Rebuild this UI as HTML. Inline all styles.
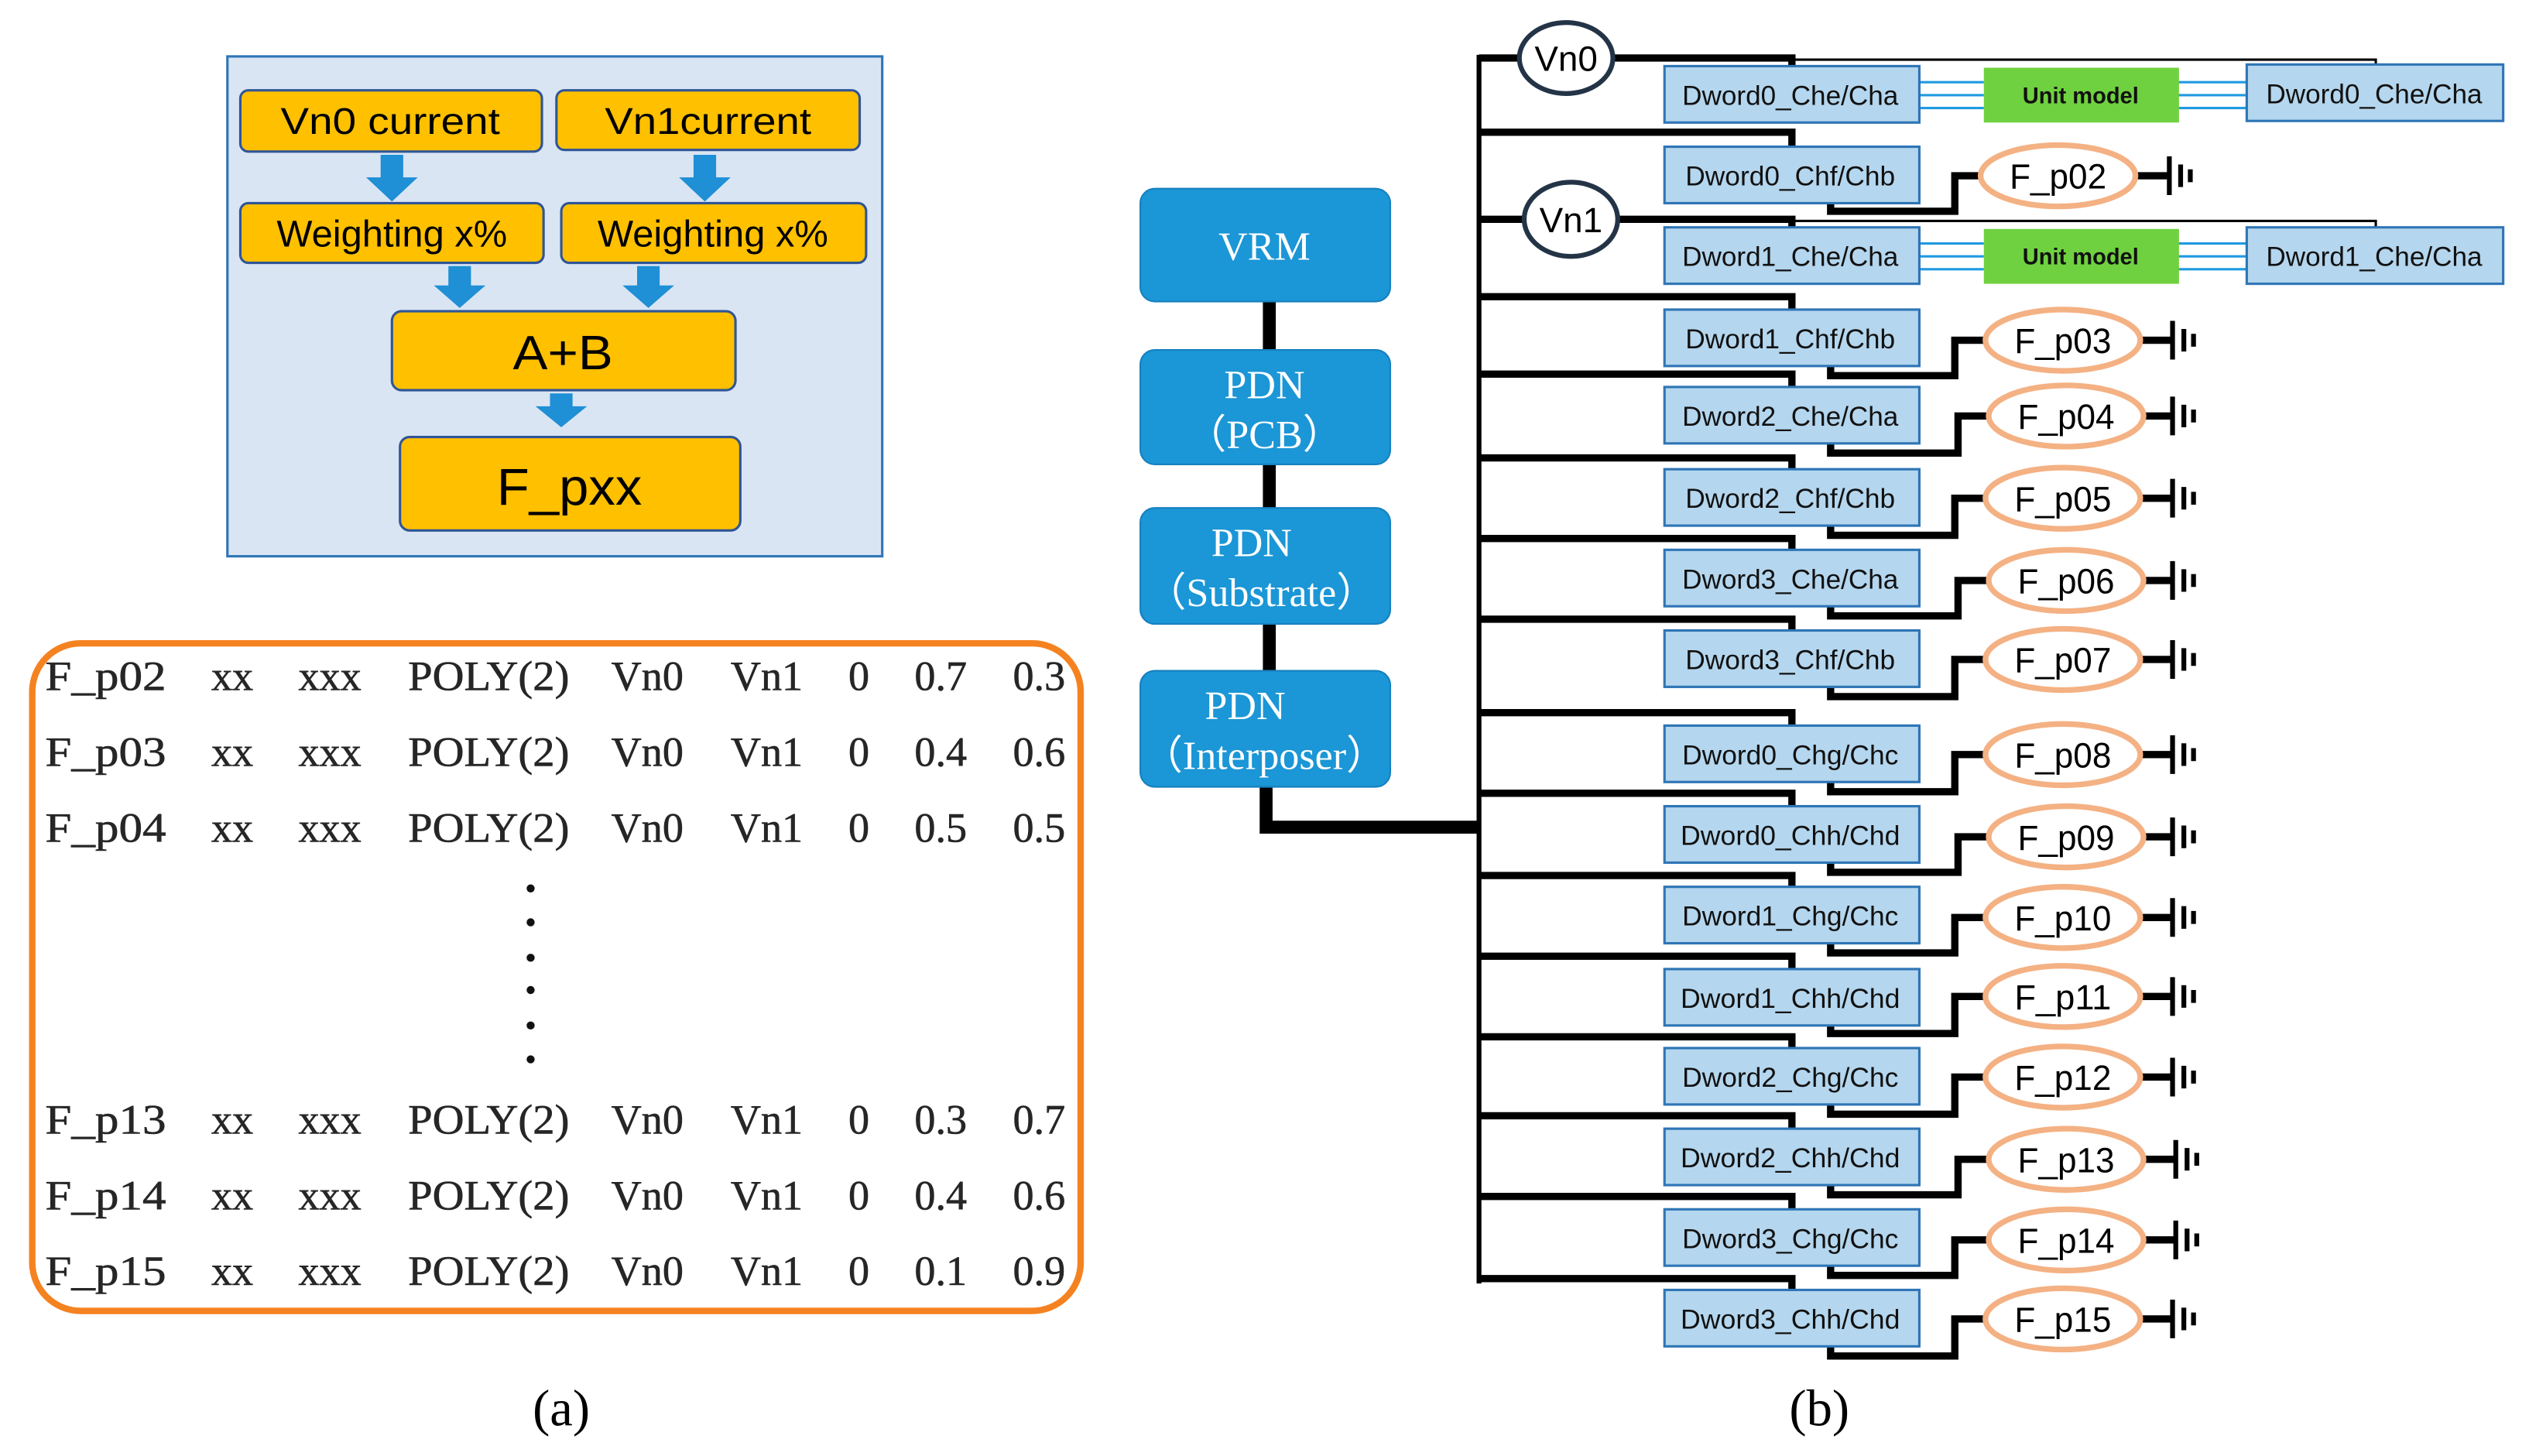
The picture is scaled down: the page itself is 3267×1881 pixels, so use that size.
<!DOCTYPE html>
<html><head><meta charset="utf-8"><style>
html,body{margin:0;padding:0;background:#fff}
svg{display:block}
.r{font-family:"Liberation Serif",serif}
.bx{fill:#b4d6ee;stroke:#2e75b6;stroke-width:1.5}
.bt{font-family:"Liberation Sans",sans-serif;font-size:17px;fill:#111;text-anchor:middle}
.el{fill:#fff;stroke:#f4b183;stroke-width:3.5}
.et{font-family:"Liberation Sans",sans-serif;font-size:22px;fill:#000;text-anchor:middle}
.w{fill:none;stroke:#000;stroke-width:4.5}
.g{stroke:#000;stroke-width:3}
.tb{font-family:"Liberation Serif",serif;font-size:26px;fill:#262626;stroke:#262626;stroke-width:0.3}
.yb{fill:#ffc000;stroke:#2f5597;stroke-width:1.5}
.yt{font-family:"Liberation Sans",sans-serif;fill:#000;text-anchor:middle}
.pb{fill:#1b96d6;stroke:#1680be;stroke-width:1}
.pt{font-family:"Liberation Serif",serif;font-size:25px;fill:#fff;text-anchor:middle}
.ar{fill:#1f8fd6}
</style></head><body>
<svg width="3267" height="1881" viewBox="0 0 1568 903" preserveAspectRatio="none" xmlns="http://www.w3.org/2000/svg">
<rect x="141" y="35" width="406" height="310" fill="#dae5f3" stroke="#2e75b6" stroke-width="1.5"/>
<rect class="yb" x="149" y="56" width="187" height="38" rx="5"/>
<text class="yt" x="242" y="83" font-size="23" textLength="136" lengthAdjust="spacingAndGlyphs">Vn0 current</text>
<rect class="yb" x="345" y="56" width="188" height="37" rx="5"/>
<text class="yt" x="439" y="83" font-size="23" textLength="128" lengthAdjust="spacingAndGlyphs">Vn1current</text>
<path class="ar" d="M236 96h14v14h9l-16 15-16-15h9z"/>
<path class="ar" d="M430 96h14v14h9l-16 15-16-15h9z"/>
<rect class="yb" x="149" y="126" width="188" height="37" rx="5"/>
<text class="yt" x="243" y="153" font-size="23" textLength="143" lengthAdjust="spacingAndGlyphs">Weighting x%</text>
<rect class="yb" x="348" y="126" width="189" height="37" rx="5"/>
<text class="yt" x="442" y="153" font-size="23" textLength="143" lengthAdjust="spacingAndGlyphs">Weighting x%</text>
<path class="ar" d="M278 165h14v12h9l-16 14-16-14h9z"/>
<path class="ar" d="M395 165h14v12h9l-16 14-16-14h9z"/>
<rect class="yb" x="243" y="193" width="213" height="49" rx="6"/>
<text class="yt" x="349" y="229" font-size="30" textLength="62" lengthAdjust="spacingAndGlyphs">A+B</text>
<path class="ar" d="M341 244h14v8h9l-16 13-16-13h9z"/>
<rect class="yb" x="248" y="271" width="211" height="58" rx="6"/>
<text class="yt" x="353" y="313" font-size="32" textLength="90" lengthAdjust="spacingAndGlyphs">F_pxx</text>

<rect x="20" y="399" width="650" height="414" rx="30" fill="none" stroke="#f58220" stroke-width="4"/>
<g class="tb">
<text x="28" y="428" textLength="75" lengthAdjust="spacingAndGlyphs">F_p02</text><text x="131" y="428">xx</text><text x="185" y="428">xxx</text><text x="253" y="428" textLength="100" lengthAdjust="spacingAndGlyphs">POLY(2)</text><text x="379" y="428">Vn0</text><text x="453" y="428">Vn1</text><text x="526" y="428">0</text><text x="567" y="428">0.7</text><text x="628" y="428">0.3</text>
<text x="28" y="475" textLength="75" lengthAdjust="spacingAndGlyphs">F_p03</text><text x="131" y="475">xx</text><text x="185" y="475">xxx</text><text x="253" y="475" textLength="100" lengthAdjust="spacingAndGlyphs">POLY(2)</text><text x="379" y="475">Vn0</text><text x="453" y="475">Vn1</text><text x="526" y="475">0</text><text x="567" y="475">0.4</text><text x="628" y="475">0.6</text>
<text x="28" y="522" textLength="75" lengthAdjust="spacingAndGlyphs">F_p04</text><text x="131" y="522">xx</text><text x="185" y="522">xxx</text><text x="253" y="522" textLength="100" lengthAdjust="spacingAndGlyphs">POLY(2)</text><text x="379" y="522">Vn0</text><text x="453" y="522">Vn1</text><text x="526" y="522">0</text><text x="567" y="522">0.5</text><text x="628" y="522">0.5</text>
<text x="28" y="703" textLength="75" lengthAdjust="spacingAndGlyphs">F_p13</text><text x="131" y="703">xx</text><text x="185" y="703">xxx</text><text x="253" y="703" textLength="100" lengthAdjust="spacingAndGlyphs">POLY(2)</text><text x="379" y="703">Vn0</text><text x="453" y="703">Vn1</text><text x="526" y="703">0</text><text x="567" y="703">0.3</text><text x="628" y="703">0.7</text>
<text x="28" y="750" textLength="75" lengthAdjust="spacingAndGlyphs">F_p14</text><text x="131" y="750">xx</text><text x="185" y="750">xxx</text><text x="253" y="750" textLength="100" lengthAdjust="spacingAndGlyphs">POLY(2)</text><text x="379" y="750">Vn0</text><text x="453" y="750">Vn1</text><text x="526" y="750">0</text><text x="567" y="750">0.4</text><text x="628" y="750">0.6</text>
<text x="28" y="797" textLength="75" lengthAdjust="spacingAndGlyphs">F_p15</text><text x="131" y="797">xx</text><text x="185" y="797">xxx</text><text x="253" y="797" textLength="100" lengthAdjust="spacingAndGlyphs">POLY(2)</text><text x="379" y="797">Vn0</text><text x="453" y="797">Vn1</text><text x="526" y="797">0</text><text x="567" y="797">0.1</text><text x="628" y="797">0.9</text>
</g>
<g fill="#111"><circle cx="329" cy="551" r="2.5"/><circle cx="329" cy="572" r="2.5"/><circle cx="329" cy="594" r="2.5"/><circle cx="329" cy="614" r="2.5"/><circle cx="329" cy="636" r="2.5"/><circle cx="329" cy="657" r="2.5"/></g>
<text class="r" x="348" y="884" font-size="32" text-anchor="middle">(a)</text>
<text class="r" x="1128" y="884" font-size="32" text-anchor="middle">(b)</text>

<path d="M787 185V420" stroke="#000" stroke-width="8"/>
<path d="M785 485V513H918" fill="none" stroke="#000" stroke-width="8"/>
<rect class="pb" x="707" y="117" width="155" height="70" rx="9"/>
<text class="pt" x="784" y="161">VRM</text>
<rect class="pb" x="707" y="217" width="155" height="71" rx="9"/>
<text class="pt" x="784" y="247">PDN</text><text class="pt" x="784" y="278" font-size="22">（PCB）</text>
<rect class="pb" x="707" y="315" width="155" height="72" rx="9"/>
<text class="pt" x="776" y="345">PDN</text><text class="pt" x="782" y="376" font-size="22">（Substrate）</text>
<rect class="pb" x="707" y="416" width="155" height="72" rx="9"/>
<text class="pt" x="772" y="446">PDN</text><text class="pt" x="784" y="477" font-size="22">（Interposer）</text>

<path d="M917 34V796" stroke="#000" stroke-width="3"/>
<path class="w" d="M917 36H944M998 36H1111V41"/>
<path d="M1111 37H1473V42" fill="none" stroke="#000" stroke-width="1.5"/>
<ellipse cx="971" cy="36" rx="29" ry="22" fill="#fff" stroke="#243447" stroke-width="3"/>
<text class="et" x="971" y="44">Vn0</text>
<path class="w" d="M917 136H946M1001 136H1111V141"/>
<path d="M1111 137H1473V143" fill="none" stroke="#000" stroke-width="1.5"/>
<ellipse cx="974" cy="136" rx="29" ry="23" fill="#fff" stroke="#243447" stroke-width="3"/>
<text class="et" x="974" y="144">Vn1</text>
<g stroke="#1f9ae0" stroke-width="1.5">
<path d="M1190 51H1230M1190 59H1230M1190 67H1230M1350 51H1393M1350 59H1393M1350 67H1393"/>
<path d="M1190 151H1230M1190 159H1230M1190 167H1230M1350 151H1393M1350 159H1393M1350 167H1393"/>
</g>
<rect x="1230" y="42" width="121" height="34" fill="#6fd13f"/>
<text x="1290" y="64" font-family="Liberation Sans,sans-serif" font-size="14" font-weight="bold" text-anchor="middle" fill="#111" textLength="72" lengthAdjust="spacingAndGlyphs">Unit model</text>
<rect x="1230" y="142" width="121" height="34" fill="#6fd13f"/>
<text x="1290" y="164" font-family="Liberation Sans,sans-serif" font-size="14" font-weight="bold" text-anchor="middle" fill="#111" textLength="72" lengthAdjust="spacingAndGlyphs">Unit model</text>
<rect class="bx" x="1393" y="40" width="159" height="35"/>
<text class="bt" x="1472" y="64" textLength="134" lengthAdjust="spacingAndGlyphs">Dword0_Che/Cha</text>
<rect class="bx" x="1393" y="141" width="159" height="35"/>
<text class="bt" x="1472" y="165" textLength="134" lengthAdjust="spacingAndGlyphs">Dword1_Che/Cha</text>

<path class="w" d="M917 82H1111V91M917 184H1111V192M917 232H1111V240M917 284H1111V291M917 334H1111V341M917 384H1111V391M917 442H1111V450M917 492H1111V500M917 543H1111V550M917 593H1111V601M917 643H1111V650M917 692H1111V700M917 742H1111V750M917 793H1111V800"/>
<path class="w" d="M1135 126V131H1212V109H1230M1135 227V233H1212V211H1232M1135 275V281H1214V258H1234M1135 326V332H1212V309H1232M1135 376V382H1214V360H1234M1135 426V432H1212V409H1232M1135 485V491H1212V468H1232M1135 535V541H1214V519H1234M1135 585V591H1212V569H1232M1135 636V641H1212V618H1232M1135 685V691H1212V668H1232M1135 735V741H1214V719H1234M1135 785V791H1212V769H1232M1135 835V841H1212V818H1232"/>
<g>
<rect class="bx" x="1032" y="41" width="158" height="35"/><text class="bt" x="1110" y="65" textLength="134" lengthAdjust="spacingAndGlyphs">Dword0_Che/Cha</text>
<rect class="bx" x="1032" y="91" width="158" height="35"/><text class="bt" x="1110" y="115" textLength="130" lengthAdjust="spacingAndGlyphs">Dword0_Chf/Chb</text>
<rect class="bx" x="1032" y="141" width="158" height="35"/><text class="bt" x="1110" y="165" textLength="134" lengthAdjust="spacingAndGlyphs">Dword1_Che/Cha</text>
<rect class="bx" x="1032" y="192" width="158" height="35"/><text class="bt" x="1110" y="216" textLength="130" lengthAdjust="spacingAndGlyphs">Dword1_Chf/Chb</text>
<rect class="bx" x="1032" y="240" width="158" height="35"/><text class="bt" x="1110" y="264" textLength="134" lengthAdjust="spacingAndGlyphs">Dword2_Che/Cha</text>
<rect class="bx" x="1032" y="291" width="158" height="35"/><text class="bt" x="1110" y="315" textLength="130" lengthAdjust="spacingAndGlyphs">Dword2_Chf/Chb</text>
<rect class="bx" x="1032" y="341" width="158" height="35"/><text class="bt" x="1110" y="365" textLength="134" lengthAdjust="spacingAndGlyphs">Dword3_Che/Cha</text>
<rect class="bx" x="1032" y="391" width="158" height="35"/><text class="bt" x="1110" y="415" textLength="130" lengthAdjust="spacingAndGlyphs">Dword3_Chf/Chb</text>
<rect class="bx" x="1032" y="450" width="158" height="35"/><text class="bt" x="1110" y="474" textLength="134" lengthAdjust="spacingAndGlyphs">Dword0_Chg/Chc</text>
<rect class="bx" x="1032" y="500" width="158" height="35"/><text class="bt" x="1110" y="524" textLength="136" lengthAdjust="spacingAndGlyphs">Dword0_Chh/Chd</text>
<rect class="bx" x="1032" y="550" width="158" height="35"/><text class="bt" x="1110" y="574" textLength="134" lengthAdjust="spacingAndGlyphs">Dword1_Chg/Chc</text>
<rect class="bx" x="1032" y="601" width="158" height="35"/><text class="bt" x="1110" y="625" textLength="136" lengthAdjust="spacingAndGlyphs">Dword1_Chh/Chd</text>
<rect class="bx" x="1032" y="650" width="158" height="35"/><text class="bt" x="1110" y="674" textLength="134" lengthAdjust="spacingAndGlyphs">Dword2_Chg/Chc</text>
<rect class="bx" x="1032" y="700" width="158" height="35"/><text class="bt" x="1110" y="724" textLength="136" lengthAdjust="spacingAndGlyphs">Dword2_Chh/Chd</text>
<rect class="bx" x="1032" y="750" width="158" height="35"/><text class="bt" x="1110" y="774" textLength="134" lengthAdjust="spacingAndGlyphs">Dword3_Chg/Chc</text>
<rect class="bx" x="1032" y="800" width="158" height="35"/><text class="bt" x="1110" y="824" textLength="136" lengthAdjust="spacingAndGlyphs">Dword3_Chh/Chd</text>
</g>

<path class="w" d="M1324 109H1345M1328 211H1347M1330 258H1347M1328 309H1347M1330 360H1347M1328 409H1347M1328 468H1347M1330 519H1347M1328 569H1347M1328 618H1347M1328 668H1347M1330 719H1349M1330 769H1349M1328 818H1347"/>
<g class="g">
<path d="M1345 97V121M1352 102V116M1358 105V113"/>
<path d="M1347 199V223M1354 204V218M1360 207V215"/>
<path d="M1347 246V270M1354 251V265M1360 254V262"/>
<path d="M1347 297V321M1354 302V316M1360 305V313"/>
<path d="M1347 348V372M1354 353V367M1360 356V364"/>
<path d="M1347 397V421M1354 402V416M1360 405V413"/>
<path d="M1347 456V480M1354 461V475M1360 464V472"/>
<path d="M1347 507V531M1354 512V526M1360 515V523"/>
<path d="M1347 557V581M1354 562V576M1360 565V573"/>
<path d="M1347 606V630M1354 611V625M1360 614V622"/>
<path d="M1347 656V680M1354 661V675M1360 664V672"/>
<path d="M1349 707V731M1356 712V726M1362 715V723"/>
<path d="M1349 757V781M1356 762V776M1362 765V773"/>
<path d="M1347 806V830M1354 811V825M1360 814V822"/>
</g>
<ellipse class="el" cx="1276" cy="109" rx="48" ry="19"/><text class="et" x="1276" y="117" textLength="60" lengthAdjust="spacingAndGlyphs">F_p02</text>
<ellipse class="el" cx="1279" cy="211" rx="48" ry="19"/><text class="et" x="1279" y="219" textLength="60" lengthAdjust="spacingAndGlyphs">F_p03</text>
<ellipse class="el" cx="1281" cy="258" rx="48" ry="19"/><text class="et" x="1281" y="266" textLength="60" lengthAdjust="spacingAndGlyphs">F_p04</text>
<ellipse class="el" cx="1279" cy="309" rx="48" ry="19"/><text class="et" x="1279" y="317" textLength="60" lengthAdjust="spacingAndGlyphs">F_p05</text>
<ellipse class="el" cx="1281" cy="360" rx="48" ry="19"/><text class="et" x="1281" y="368" textLength="60" lengthAdjust="spacingAndGlyphs">F_p06</text>
<ellipse class="el" cx="1279" cy="409" rx="48" ry="19"/><text class="et" x="1279" y="417" textLength="60" lengthAdjust="spacingAndGlyphs">F_p07</text>
<ellipse class="el" cx="1279" cy="468" rx="48" ry="19"/><text class="et" x="1279" y="476" textLength="60" lengthAdjust="spacingAndGlyphs">F_p08</text>
<ellipse class="el" cx="1281" cy="519" rx="48" ry="19"/><text class="et" x="1281" y="527" textLength="60" lengthAdjust="spacingAndGlyphs">F_p09</text>
<ellipse class="el" cx="1279" cy="569" rx="48" ry="19"/><text class="et" x="1279" y="577" textLength="60" lengthAdjust="spacingAndGlyphs">F_p10</text>
<ellipse class="el" cx="1279" cy="618" rx="48" ry="19"/><text class="et" x="1279" y="626" textLength="60" lengthAdjust="spacingAndGlyphs">F_p11</text>
<ellipse class="el" cx="1279" cy="668" rx="48" ry="19"/><text class="et" x="1279" y="676" textLength="60" lengthAdjust="spacingAndGlyphs">F_p12</text>
<ellipse class="el" cx="1281" cy="719" rx="48" ry="19"/><text class="et" x="1281" y="727" textLength="60" lengthAdjust="spacingAndGlyphs">F_p13</text>
<ellipse class="el" cx="1281" cy="769" rx="48" ry="19"/><text class="et" x="1281" y="777" textLength="60" lengthAdjust="spacingAndGlyphs">F_p14</text>
<ellipse class="el" cx="1279" cy="818" rx="48" ry="19"/><text class="et" x="1279" y="826" textLength="60" lengthAdjust="spacingAndGlyphs">F_p15</text>
</svg>
</body></html>
